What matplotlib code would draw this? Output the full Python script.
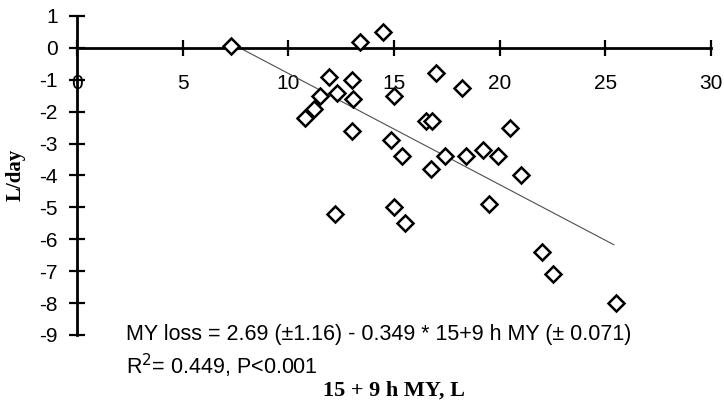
import matplotlib
matplotlib.use("Agg")
import matplotlib.pyplot as plt

# 15+9 h milk yield (L) vs. milk yield loss (L/day)
my_15_9 = [7.3, 13.4, 14.5, 11.9, 13.0, 17.0, 12.3, 11.5, 13.05, 15.0,
           11.2, 10.8, 16.5, 16.8, 13.0, 14.85, 15.4, 17.4, 16.75, 18.2,
           20.5, 18.4, 19.2, 19.9, 21.0, 12.2, 15.0, 15.5, 19.5, 22.0,
           22.5, 25.5]
my_loss = [0.05, 0.2, 0.5, -0.9, -1.0, -0.8, -1.4, -1.5, -1.6, -1.5,
           -1.9, -2.2, -2.3, -2.3, -2.6, -2.9, -3.4, -3.4, -3.8, -1.25,
           -2.5, -3.4, -3.2, -3.4, -4.0, -5.2, -5.0, -5.5, -4.9, -6.4,
           -7.1, -8.0]

# regression line end points
fit_x = [7.3, 25.4]
fit_y = [0.14, -6.17]

xticks = [0, 5, 10, 15, 20, 25, 30]
yticks = [1, 0, -1, -2, -3, -4, -5, -6, -7, -8, -9]

sans = "Liberation Sans"
serif = "Liberation Serif"

fig = plt.figure(figsize=(7.24, 4.01), dpi=100)
ax = fig.add_axes([0.1064, 0.1646, 0.8757, 0.7955])

ax.plot(fit_x, fit_y, color="0.3", lw=0.8, zorder=2)
ax.plot(my_15_9, my_loss, "D", ms=8.5, mfc="white", mec="black", mew=1.8,
        ls="none", zorder=3, clip_on=False)

ax.set_xlim(0, 30)
ax.set_ylim(-9, 1)

ax.spines["left"].set_position(("data", 0))
ax.spines["bottom"].set_position(("data", 0))
ax.spines["top"].set_visible(False)
ax.spines["right"].set_visible(False)
ax.spines["left"].set_linewidth(2)
ax.spines["bottom"].set_linewidth(2)

ax.set_xticks(xticks)
ax.set_yticks(yticks)
ax.set_xticklabels([str(v) for v in xticks], fontfamily=sans, fontsize=15)
ax.set_yticklabels([str(v) for v in yticks], fontfamily=sans, fontsize=15)
ax.tick_params(axis="x", direction="inout", length=12, width=1.6, pad=13)
ax.tick_params(axis="y", direction="inout", length=12, width=1.6, pad=8)

fig.text(0.021, 0.565, "L/day", rotation=90, ha="center", va="center",
         fontfamily=serif, fontweight="bold", fontsize=15)
fig.text(0.544, 0.027, "15 + 9 h MY, L", ha="center", va="center",
         fontfamily=serif, fontweight="bold", fontsize=16)

fig.text(0.174, 0.167, "MY loss = 2.69 (\u00b11.16) - 0.349 * 15+9 h MY (\u00b1 0.071)",
         ha="left", va="center", fontfamily=sans, fontsize=15.5)
fig.text(0.174, 0.088, "R$^2$= 0.449, P<0.001",
         ha="left", va="center", fontfamily=sans, fontsize=15.5)

fig.savefig("out.png", dpi=100)
